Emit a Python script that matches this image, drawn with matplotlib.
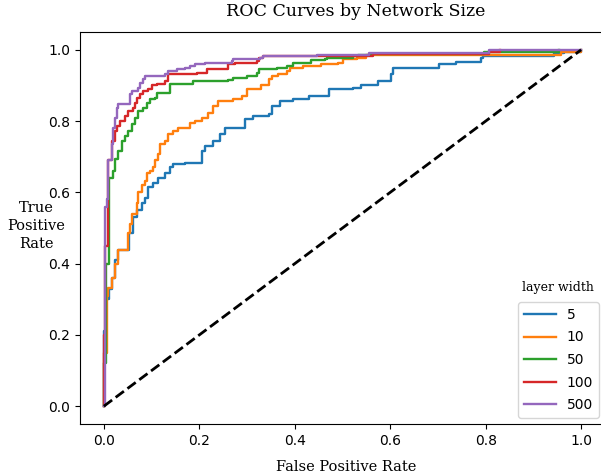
import matplotlib
matplotlib.use("Agg")
import matplotlib.pyplot as plt
import numpy as np

layer_widths = ["5", "10", "50", "100", "500"]

fpr_5 = [0.0, 0.000, 0.005, 0.010, 0.017, 0.023, 0.029, 0.052, 0.062, 0.070, 0.080, 0.086, 0.092, 0.103, 0.113, 0.128, 0.139, 0.145, 0.170, 0.205, 0.212, 0.229, 0.244, 0.254, 0.296, 0.313, 0.345, 0.353, 0.370, 0.397, 0.429, 0.471, 0.523, 0.538, 0.574, 0.601, 0.605, 0.702, 0.737, 0.790, 0.794, 0.943, 0.964, 1.0]
tpr_5 = [0.0, 0.21, 0.30, 0.33, 0.36, 0.41, 0.437, 0.485, 0.53, 0.55, 0.57, 0.585, 0.614, 0.625, 0.64, 0.653, 0.67, 0.68, 0.683, 0.717, 0.73, 0.745, 0.765, 0.78, 0.807, 0.815, 0.82, 0.843, 0.857, 0.863, 0.871, 0.89, 0.894, 0.90, 0.913, 0.933, 0.95, 0.96, 0.966, 0.978, 0.983, 0.99, 0.995, 1.0]

fpr_10 = [0.0, 0.000, 0.006, 0.008, 0.017, 0.023, 0.029, 0.050, 0.055, 0.059, 0.070, 0.072, 0.080, 0.086, 0.090, 0.097, 0.103, 0.107, 0.113, 0.118, 0.128, 0.134, 0.145, 0.155, 0.181, 0.191, 0.206, 0.218, 0.229, 0.240, 0.270, 0.290, 0.300, 0.330, 0.345, 0.353, 0.365, 0.384, 0.391, 0.418, 0.454, 0.490, 0.500, 0.530, 0.550, 0.958, 1.0]
tpr_10 = [0.0, 0.15, 0.31, 0.333, 0.36, 0.40, 0.437, 0.485, 0.51, 0.54, 0.57, 0.60, 0.62, 0.633, 0.653, 0.661, 0.67, 0.69, 0.709, 0.737, 0.745, 0.765, 0.773, 0.78, 0.796, 0.80, 0.81, 0.824, 0.843, 0.857, 0.863, 0.871, 0.89, 0.90, 0.919, 0.927, 0.933, 0.941, 0.95, 0.955, 0.961, 0.964, 0.975, 0.978, 0.986, 0.994, 1.0]

fpr_50 = [0.0, 0.000, 0.004, 0.010, 0.019, 0.023, 0.029, 0.038, 0.044, 0.050, 0.059, 0.065, 0.071, 0.082, 0.090, 0.097, 0.107, 0.111, 0.139, 0.187, 0.261, 0.271, 0.300, 0.321, 0.324, 0.363, 0.384, 0.397, 0.433, 0.464, 0.468, 0.523, 0.532, 0.559, 0.796, 0.954]
tpr_50 = [0.0, 0.12, 0.40, 0.64, 0.66, 0.695, 0.717, 0.745, 0.759, 0.773, 0.793, 0.81, 0.829, 0.838, 0.851, 0.863, 0.866, 0.88, 0.905, 0.913, 0.916, 0.922, 0.927, 0.936, 0.947, 0.95, 0.955, 0.964, 0.972, 0.975, 0.978, 0.983, 0.986, 0.989, 0.994, 1.0]

fpr_100 = [0.0, 0.000, 0.002, 0.008, 0.017, 0.023, 0.027, 0.034, 0.044, 0.050, 0.061, 0.065, 0.069, 0.076, 0.082, 0.092, 0.101, 0.111, 0.128, 0.134, 0.195, 0.216, 0.261, 0.275, 0.321, 0.324, 0.334, 0.563, 0.807, 0.830]
tpr_100 = [0.0, 0.20, 0.45, 0.69, 0.745, 0.773, 0.787, 0.80, 0.815, 0.829, 0.838, 0.851, 0.866, 0.877, 0.885, 0.89, 0.90, 0.905, 0.913, 0.933, 0.936, 0.947, 0.96, 0.964, 0.969, 0.978, 0.983, 0.989, 0.994, 1.0]

fpr_500 = [0.0, 0.002, 0.006, 0.008, 0.017, 0.019, 0.023, 0.027, 0.029, 0.055, 0.059, 0.071, 0.076, 0.082, 0.086, 0.128, 0.134, 0.153, 0.170, 0.181, 0.191, 0.212, 0.269, 0.271, 0.328, 0.334, 0.447, 0.555, 0.807, 1.0]
tpr_500 = [0.0, 0.56, 0.58, 0.69, 0.737, 0.78, 0.81, 0.838, 0.849, 0.877, 0.885, 0.894, 0.908, 0.919, 0.927, 0.933, 0.941, 0.947, 0.95, 0.955, 0.961, 0.964, 0.969, 0.975, 0.978, 0.983, 0.986, 0.992, 1.0, 1.0]

curves = [(fpr_5, tpr_5), (fpr_10, tpr_10), (fpr_50, tpr_50), (fpr_100, tpr_100), (fpr_500, tpr_500)]
colors = ["#1f77b4", "#ff7f0e", "#2ca02c", "#d62728", "#9467bd"]

fig = plt.figure(figsize=(6.01, 4.75), dpi=100)
W, H = 601, 475
ax = fig.add_axes([80 / W, (H - 424) / H, (605 - 80) / W, (424 - 32) / H])

for (f, t), c, lab in zip(curves, colors, layer_widths):
    ax.plot(f, t, drawstyle="steps-post", color=c, lw=1.7, label=lab)
ax.plot([0, 1], [0, 1], "k--", lw=2)

ax.set_xlim(-0.05, 1.05)
ax.set_ylim(-0.05, 1.05)
ax.set_xticks([0, 0.2, 0.4, 0.6, 0.8, 1.0])
ax.set_yticks([0, 0.2, 0.4, 0.6, 0.8, 1.0])
ax.tick_params(labelsize=10)

leg = ax.legend(loc="lower right", fontsize=10, labelspacing=0.62, handlelength=2.3,
                borderaxespad=0.45)

fig.text(356 / W, 1 - 12 / H, "ROC Curves by Network Size", family="DejaVu Serif",
         fontsize=12.5, ha="center", va="center")
fig.text(346 / W, 1 - 467 / H, "False Positive Rate", family="DejaVu Serif",
         fontsize=10.5, ha="center", va="center")
fig.text(36 / W, 1 - 226 / H, "True\nPositive\nRate", family="DejaVu Serif",
         fontsize=10.5, ha="center", va="center", multialignment="center", linespacing=1.4)
fig.text(558 / W, 1 - 288 / H, "layer width", family="DejaVu Serif",
         fontsize=9, ha="center", va="center")

fig.savefig("out.png", dpi=100)
